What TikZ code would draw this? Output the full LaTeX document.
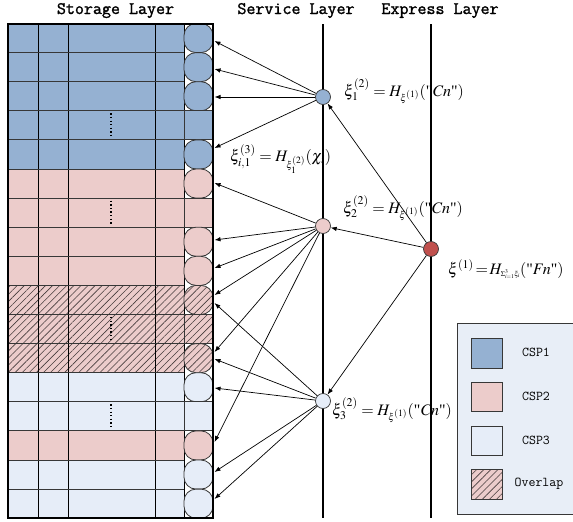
\documentclass[tikz,border=0pt]{standalone}
\usepackage{mathptmx}
\usepackage{graphicx}
\usepackage{fontspec}
\setmainfont{Liberation Serif}
\newfontfamily\titlefont{Latin Modern Mono}[FakeBold=1.5]
\usetikzlibrary{arrows.meta,patterns.meta}

\definecolor{cspone}{RGB}{149,177,210}
\definecolor{csptwo}{RGB}{236,204,203}
\definecolor{cspthree}{RGB}{230,237,248}
\definecolor{exprred}{RGB}{192,80,77}
\definecolor{legendbg}{RGB}{232,238,247}
\definecolor{edgegray}{RGB}{55,55,55}
\definecolor{hatchgray}{RGB}{70,60,60}

\newcommand{\qt}[1]{(\mbox{\textquotedbl}\mathit{#1}\mbox{\textquotedbl})}

\tikzset{
  rowblue/.style={fill=cspone},
  rowpink/.style={fill=csptwo},
  rowlight/.style={fill=cspthree},
  rowhatch/.style={preaction={fill=csptwo},
    pattern={Lines[angle=45,distance=5pt,line width=0.6pt]},
    pattern color=hatchgray},
  gridline/.style={draw=black, line width=0.8pt},
  rowline/.style={draw=edgegray, line width=0.9pt},
  cellcirc/.style={rectangle, rounded corners=12pt, draw=edgegray,
    line width=0.8pt, minimum width=29pt, minimum height=29.1pt, inner sep=0pt},
  dotline/.style={line width=1.3pt, dash pattern=on 1.3pt off 2.3pt},
  layerline/.style={line width=2pt},
  xinode/.style={circle, draw=edgegray, line width=0.7pt, minimum size=15pt, inner sep=0pt},
  arr/.style={line width=0.7pt, -{Latex[length=6pt,width=4.5pt]}},
  lbl/.style={anchor=base west, inner sep=0pt, font=\fontsize{16}{18}\selectfont},
  ttl/.style={anchor=base, inner sep=0pt, font=\titlefont\fontsize{17.5}{20}\selectfont},
  legtxt/.style={inner sep=0pt, font=\ttfamily\fontsize{13.5}{15}\selectfont},
  legsq/.style={draw=edgegray, line width=0.8pt},
}

\begin{document}
\begin{tikzpicture}[x=1pt, y=-1pt]
\useasboundingbox (0,0) rectangle (573,522);

% layer titles
\node[ttl] (tstore) at (115.5,14) {Storage Layer};
\node[ttl] (tserv)  at (296,14)   {Service Layer};
\node[ttl] (texpr)  at (440,14)   {Express Layer};

% storage rows: index / colour / has a hash cell
\def\rowlist{1/blue/1, 2/blue/1, 3/blue/1, 4/blue/0, 5/blue/1,
  6/pink/1, 7/pink/0, 8/pink/1, 9/pink/1,
  10/hatch/1, 11/hatch/0, 12/hatch/1,
  13/light/1, 14/light/0, 15/pink/1, 16/light/1, 17/light/1}

% row fills
\foreach \k/\s/\c in \rowlist {
  \pgfmathsetmacro\ytop{23.5+29.1*(\k-1)}
  \pgfmathsetmacro\ybot{\ytop+29.1}
  \path[row\s] (8,\ytop) rectangle (184,\ybot);
}

% column lines
\foreach \x in {38,68,155,184}
  \draw[gridline] (\x,23.5) -- (\x,518.2);

% row lines, dots and the last column
\foreach \k/\s/\c in \rowlist {
  \pgfmathsetmacro\ytop{23.5+29.1*(\k-1)}
  \pgfmathsetmacro\ybot{\ytop+29.1}
  \draw[rowline] (8,\ybot) -- (184,\ybot);
  \ifnum\c=1
    \node[cellcirc, row\s] (cell\k) at (198.5,{\ytop+14.55}) {};
  \else
    \draw[rowline, row\s] (184,\ytop) rectangle (213,\ybot);
    \draw[dotline] (111,{\ytop+2.5}) -- (111,{\ybot-2.5});
  \fi
}

% outer frame
\draw[line width=2pt] (8,23.5) rectangle (213,518.2);

% service and express layers
\draw[layerline] (323,24) -- (323,518);
\draw[layerline] (431,24) -- (431,518);

\node[xinode, fill=cspone]   (x1) at (323,97)  {};
\node[xinode, fill=csptwo]   (x2) at (323,226) {};
\node[xinode, fill=cspthree] (x3) at (323,401) {};
\node[xinode, fill=exprred]  (x0) at (431,249) {};

% arrow ends on the storage side
\foreach \n/\y in {a1/41, a2/69, a3/97, a4/148,
  b1/183, b2/240, b3/268, b4/295, b5/352, b6/442,
  c1/303, c2/359, c3/388, c4/472, c5/499}
  \coordinate (\n) at (214.5,\y);

\foreach \n in {a1,a2,a3,a4} \draw[arr] (x1) -- (\n);
\foreach \n in {b1,b2,b3,b4,b5,b6} \draw[arr] (x2) -- (\n);
\foreach \n in {c1,c2,c3,c4,c5} \draw[arr] (x3) -- (\n);

\draw[arr] (x0) -- (x1);
\draw[arr] (x0) -- (x2);
\draw[arr] (x0) -- (x3);

% formulas
\node[lbl] (f1) at (344,96) {$\xi_1^{(2)}=H_{\scriptscriptstyle\xi^{(1)}}\qt{Cn}$};
\node[lbl] (f3) at (230,161.5) {$\xi_{i,1}^{(3)}=H_{\scriptscriptstyle\xi_1^{(2)}}(\chi_i)$};
\node[lbl] (f2) at (343,213) {$\xi_2^{(2)}=H_{\scriptscriptstyle\xi^{(1)}}\qt{Cn}$};
\node[lbl] (f0) at (448,274) {$\xi^{(1)}\!=\!H_{\scalebox{0.6}{$\scriptstyle\Sigma_{i=1}^{3}\xi_i$}}\qt{Fn}$};
\node[lbl] (f4) at (332,415) {$\xi_3^{(2)}=H_{\scriptscriptstyle\xi^{(1)}}\qt{Cn}$};

% legend
\draw[draw=edgegray, line width=0.8pt, fill=legendbg] (457,323) rectangle (580,514);
\draw[legsq, rowblue]  (471,338) rectangle (502,368);
\draw[legsq, rowpink]  (471,382) rectangle (502,411);
\draw[legsq, rowlight] (471,426) rectangle (502,455);
\draw[legsq, rowhatch] (471,469) rectangle (502,499);
\node[legtxt] (l1) at (536,352) {CSP1};
\node[legtxt] (l2) at (536,396) {CSP2};
\node[legtxt] (l3) at (536,440) {CSP3};
\node[legtxt] (l4) at (539,484) {Overlap};
\end{tikzpicture}
\end{document}
